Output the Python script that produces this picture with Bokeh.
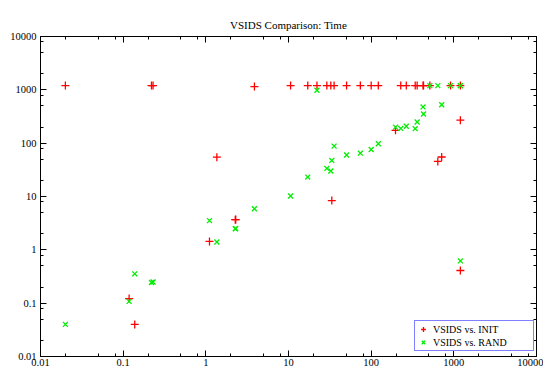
from bokeh.plotting import figure
from bokeh.models import Range1d, LogAxis, FixedTicker, Legend, LegendItem, ColumnDataSource
from bokeh.embed import file_html
from bokeh.resources import INLINE

# ---- data (seconds) ----
vsids_time = [0.02, 0.118, 0.138, 0.22, 0.23, 1.107, 1.36, 2.27, 2.3, 3.87,
              10.6, 17.1, 22.1, 29.1, 32.5, 33.4, 35.6, 50.4, 74, 100,
              122, 197, 228, 266, 341, 360, 424, 430, 513, 640,
              713, 912, 1200, 1200, 1200]
init_time = [1200, 0.122, 0.04, 1200, 1200, 1.44, 54.6, 3.68, 3.7, 1150,
             1200, 1200, 1200, 1200, 1200, 8.4, 1200, 1200, 1200, 1200,
             1200, 174, 1200, 1200, 1200, 1200, 1200, 1200, 1200, 45.5,
             55, 1200, 1200, 270, 0.41]
rand_time = [0.04, 0.108, 0.355, 0.244, 0.25, 3.53, 1.40, 2.49, 2.5, 5.88,
             10.2, 23.1, 980, 33.6, 30, 47.5, 88, 60, 65, 76,
             97.5, 200, 189, 208, 187, 249, 478, 353, 1200, 1200,
             525, 1200, 1200, 1200, 0.62]

tick_values = [0.01, 0.1, 1, 10, 100, 1000, 10000]
tick_labels = ["0.01", "0.1", "1", "10", "100", "1000", "10000"]
minor_mult = [2, 5, 8]

title_text = "VSIDS Comparison: Time"
series_names = ["VSIDS vs. INIT", "VSIDS vs. RAND"]

FONT = "Liberation Serif"

minor_ticks = [t * m for t in tick_values[:-1] for m in minor_mult]
overrides = {t: lab for t, lab in zip(tick_values, tick_labels)}

p = figure(width=543, height=371,
           x_axis_type="log", y_axis_type="log",
           x_range=Range1d(0.01, 10000), y_range=Range1d(0.01, 10000),
           output_backend="svg", toolbar_location=None,
           min_border_left=40, min_border_right=7,
           min_border_top=36, min_border_bottom=15)

p.title.text = title_text
p.title.align = "center"
p.title.vertical_align = "middle"
p.title.text_font = FONT
p.title.text_font_size = "11px"
p.title.text_font_style = "normal"
p.title.text_color = "black"
p.title.standoff = 10

p.xgrid.visible = False
p.ygrid.visible = False
p.outline_line_color = "black"
p.outline_line_width = 1
p.background_fill_color = "white"
p.border_fill_color = "white"


def style_axis(ax, show_labels=True):
    ax.ticker = FixedTicker(ticks=tick_values, minor_ticks=minor_ticks)
    ax.axis_line_color = "black"
    ax.axis_line_width = 1
    ax.major_tick_in = 6
    ax.major_tick_out = 0
    ax.minor_tick_in = 3
    ax.minor_tick_out = 0
    ax.major_tick_line_color = "black"
    ax.minor_tick_line_color = "black"
    ax.major_label_overrides = overrides
    if show_labels:
        ax.major_label_text_font = FONT
        ax.major_label_text_font_size = "10.5px"
        ax.major_label_text_color = "black"
        ax.major_label_standoff = 2
    else:
        ax.major_label_text_font_size = "1px"
        ax.major_label_text_alpha = 0
        ax.major_label_standoff = 0


style_axis(p.xaxis[0])
style_axis(p.yaxis[0])
p.yaxis[0].major_label_standoff = 4

top_ax = LogAxis()
right_ax = LogAxis()
style_axis(top_ax, show_labels=False)
style_axis(right_ax, show_labels=False)
p.add_layout(top_ax, "above")
p.add_layout(right_ax, "right")

src = ColumnDataSource(dict(x=vsids_time, init=init_time, rand=rand_time))

r_init = p.scatter("x", "init", source=src, marker="cross", size=8,
                   line_color="#ff0000", line_width=1.3)
r_rand = p.scatter("x", "rand", source=src, marker="x", size=7,
                   line_color="#00ee00", line_width=1.3)

legend = Legend(items=[LegendItem(label=series_names[0], renderers=[r_init]),
                       LegendItem(label=series_names[1], renderers=[r_rand])],
                location=(374, 5))
legend.border_line_color = "#0000ff"
legend.border_line_width = 1
legend.background_fill_color = "white"
legend.background_fill_alpha = 1
legend.label_text_font = FONT
legend.label_text_font_size = "10px"
legend.label_text_color = "black"
legend.glyph_width = 12
legend.glyph_height = 12
legend.label_height = 12
legend.label_width = 98
legend.label_standoff = 4
legend.spacing = 1
legend.padding = 2
legend.margin = 0
p.add_layout(legend, "center")

open("out.html", "w").write(file_html(p, INLINE))
